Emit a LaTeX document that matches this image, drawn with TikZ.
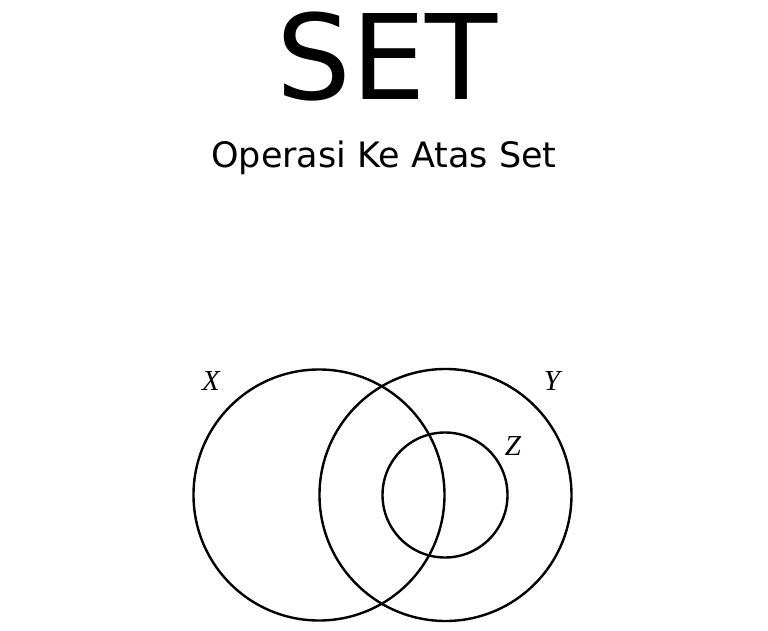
\documentclass[tikz,border=0pt]{standalone}
\usepackage{fontspec}
\setmainfont{DejaVu Sans}
\newfontfamily\labelfont{Liberation Serif}
\begin{document}
\begin{tikzpicture}[x=1pt, y=1pt, line width=2.4pt,
    settitle/.style={font=\fontsize{118}{118}\selectfont, inner sep=0pt},
    setsub/.style={font=\fontsize{35}{35}\selectfont, inner sep=0pt},
    setlabel/.style={font=\labelfont\itshape\fontsize{29}{29}\selectfont, inner sep=0pt}]
    \useasboundingbox (0,0) rectangle (768,630);
    % --- judul ---
    \node[settitle, anchor=base] (title) at (387,530) {SET};
    \node[setsub, anchor=base] (sub) at (384,462) {Operasi Ke Atas Set};
    % --- pusat bulatan ---
    \coordinate (cX) at (319,135);
    \coordinate (cY) at (445.5,135);
    \coordinate (cZ) at (445,135);
    % --- bulatan X, Y, Z ---
    \draw (cX) circle (125.5);
    \draw (cY) circle (126);
    \draw (cZ) circle (62.5);
    % --- label ---
    \node[setlabel] (lX) at (211,249) {X};
    \node[setlabel] (lY) at (552,249) {Y};
    \node[setlabel] (lZ) at (513,184) {Z};
\end{tikzpicture}
\end{document}
